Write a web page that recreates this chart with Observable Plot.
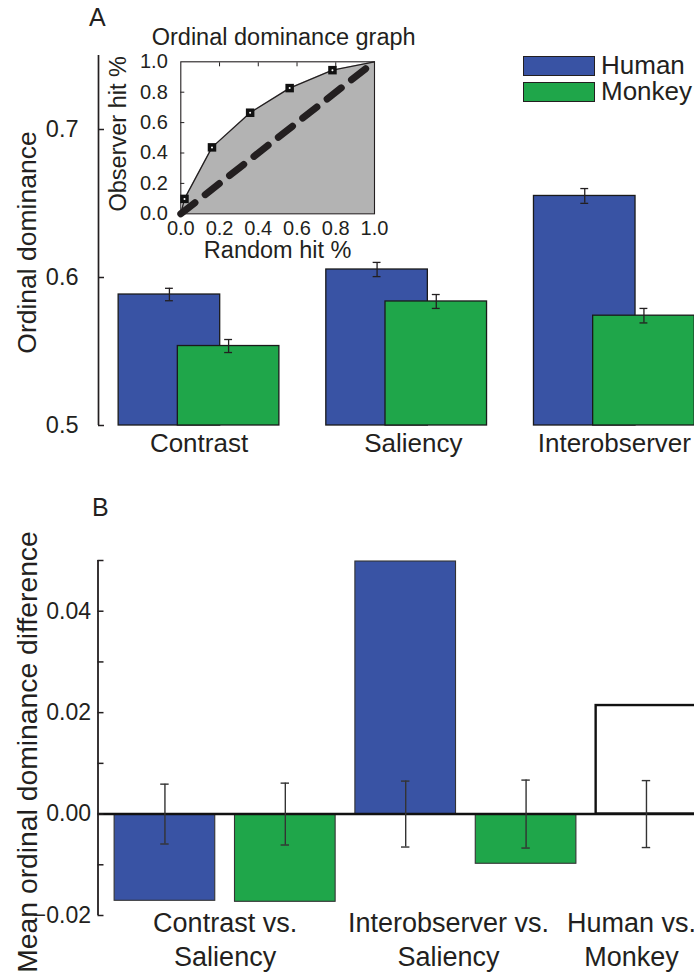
<!DOCTYPE html>
<html><head><meta charset="utf-8">
<script src="https://cdn.jsdelivr.net/npm/d3@7"></script>
<script src="https://cdn.jsdelivr.net/npm/@observablehq/plot@0.6"></script>
<style>
body{margin:0;background:#fff;}
#wrap{position:relative;width:694px;height:972px;overflow:hidden;font-family:"Liberation Sans",Arial,sans-serif;color:#231f20;}
#wrap svg{position:absolute;overflow:visible;}
.lbl{position:absolute;white-space:nowrap;line-height:24px;}
.sw{position:absolute;box-sizing:border-box;border:1.6px solid #231f20;}
</style></head><body><div id="wrap"></div>
<script>
// ---------- Panel A data ----------
const categoriesA = ["Contrast", "Saliency", "Interobserver"];
const humanA      = [0.5885, 0.6054, 0.6551];
const humanErrA   = [0.0042, 0.0048, 0.0050];
const monkeyA     = [0.5537, 0.5838, 0.5742];
const monkeyErrA  = [0.0044, 0.0047, 0.0049];
const yTicksA     = [0.5, 0.6, 0.7];

// ---------- Inset (ordinal dominance graph) ----------
const randomHit   = [0, 0.019, 0.161, 0.358, 0.562, 0.783, 1];
const observerHit = [0, 0.098, 0.437, 0.665, 0.827, 0.945, 1];
const insetTicks  = [0, 0.2, 0.4, 0.6, 0.8, 1.0];
const insetMinor  = [0.2, 0.4, 0.6, 0.8];

// ---------- Panel B data ----------
const labelsB     = ["Contrast vs.\nSaliency", "Interobserver vs.\nSaliency", "Human vs.\nMonkey"];
const groupB      = ["Human", "Monkey", "Human", "Monkey", "Both"];
const valuesB     = [-0.0171, -0.0173, 0.0498, -0.0098, 0.0214];
const nullErrB    = [0.0059, 0.0061, 0.0065, 0.0067, 0.0066];
const yTicksB     = [0.04, 0.02, 0.00, -0.02];
const yMinorB     = [0.05, 0.03, 0.01, -0.01];

// ---------- styling / layout ----------
const W = 694;
const ink = "#231f20", blue = "#3953a4", green = "#1fa64a";
const fillFor = {Human: blue, Monkey: green, Both: "#ffffff"};
const font = "Liberation Sans, Arial, sans-serif";
const wrap = document.getElementById("wrap");

// Panel A
const rowsA = categoriesA.flatMap((c, i) => [
  {cat: c, i, who: "Human",  v: humanA[i],  e: humanErrA[i]},
  {cat: c, i, who: "Monkey", v: monkeyA[i], e: monkeyErrA[i]}
]);
const shiftA = 0.1425, halfA = 0.2445, capA = 0.019;
const xDomA = [-0.484, 2.386];
const labelPosA = [0, 1.032, 2];
const cxA = d => d.i + (d.who === "Human" ? -shiftA : shiftA);

const plotA = Plot.plot({
  width: W, height: 480,
  marginLeft: 98, marginRight: 0, marginTop: 55, marginBottom: 55,
  style: {fontFamily: font, color: ink, background: "transparent", overflow: "visible"},
  x: {domain: xDomA, axis: null},
  y: {domain: [0.5, 0.75], axis: null},
  marks: [
    Plot.rect(rowsA, {x1: d => cxA(d) - halfA, x2: d => cxA(d) + halfA, y1: 0.5, y2: "v",
      fill: d => fillFor[d.who], stroke: "#1a1a1a", strokeWidth: 1.3}),
    Plot.ruleX(rowsA, {x: cxA, y1: d => d.v - d.e, y2: d => d.v + d.e, stroke: ink, strokeWidth: 1.3}),
    Plot.ruleY(rowsA, {y: d => d.v - d.e, x1: d => cxA(d) - capA, x2: d => cxA(d) + capA, stroke: ink, strokeWidth: 1.3}),
    Plot.ruleY(rowsA, {y: d => d.v + d.e, x1: d => cxA(d) - capA, x2: d => cxA(d) + capA, stroke: ink, strokeWidth: 1.3}),
    Plot.ruleX([xDomA[0]], {y1: 0.5, y2: 0.75, stroke: ink, strokeWidth: 1.7}),
    Plot.axisY(yTicksA, {tickSize: -6, tickPadding: 26, fontSize: 23.5, tickFormat: d3.format(".1f"), stroke: ink, strokeWidth: 1.5, label: null}),
    Plot.text(categoriesA, {x: (d, i) => labelPosA[i], frameAnchor: "bottom", lineAnchor: "middle", dy: 18, fontSize: 26, fill: ink}),
    Plot.text(["Ordinal dominance"], {frameAnchor: "left", textAnchor: "middle", lineAnchor: "middle", dx: -71, dy: 2, rotate: -90, fontSize: 26.5, fill: ink})
  ]
});
plotA.style.left = "0px"; plotA.style.top = "0px";
wrap.appendChild(plotA);

// Inset
const curve = randomHit.map((x, k) => ({x, y: observerHit[k]}));
const markers = curve.slice(1, -1);
const inset = Plot.plot({
  width: 420, height: 270,
  marginLeft: 180.3, marginRight: 46, marginTop: 61.3, marginBottom: 56.7,
  style: {fontFamily: font, color: ink, background: "transparent", overflow: "visible"},
  x: {domain: [0, 1], axis: null},
  y: {domain: [0, 1], axis: null},
  marks: [
    Plot.areaY(curve, {x: "x", y: "y", fill: "#b3b3b3"}),
    Plot.frame({stroke: ink, strokeWidth: 1.1}),
    Plot.line([0, 1], {x: d => d, y: d => d, stroke: ink, strokeWidth: 7, strokeDasharray: "18,13"}),
    Plot.line(curve, {x: "x", y: "y", stroke: ink, strokeWidth: 1.3}),
    Plot.dot(markers, {x: "x", y: "y", symbol: "square", r: 4.8, fill: "#111"}),
    Plot.dot(markers, {x: "x", y: "y", r: 1, fill: "#fff"}),
    Plot.axisY(insetTicks, {tickSize: 0, tickPadding: 13, fontSize: 20, tickFormat: d3.format(".1f"), label: null}),
    Plot.axisY(insetMinor, {tickSize: -4, tickFormat: () => "", label: null}),
    Plot.axisX(insetMinor, {anchor: "top", tickSize: -4, tickFormat: () => "", label: null}),
    Plot.axisX(insetTicks, {tickSize: 0, tickPadding: 7, fontSize: 20, tickFormat: d3.format(".1f"), label: null}),
    Plot.text(["Random hit %"], {frameAnchor: "bottom", lineAnchor: "middle", dy: 37, fontSize: 23.5, fill: ink}),
    Plot.text(["Observer hit %"], {frameAnchor: "left", textAnchor: "middle", lineAnchor: "middle", dx: -62.3, dy: -4, rotate: -90, fontSize: 23.5, fill: ink}),
    Plot.text(["Ordinal dominance graph"], {frameAnchor: "top", lineAnchor: "middle", dx: 6, dy: -24.6, fontSize: 23.5, fill: ink})
  ]
});
inset.style.left = "0px"; inset.style.top = "0px";
wrap.appendChild(inset);

// Panel B
const rowsB = valuesB.map((v, i) => ({i, v, e: nullErrB[i], who: groupB[i]}));
const halfB = 0.418, capB = 0.035;
const xDomB = [-0.556, 4.399];
const labelPosB = [0.5, 2.355, 3.875];
const plotB = Plot.plot({
  width: W, height: 492,
  marginLeft: 97.5, marginRight: 0, marginTop: 80, marginBottom: 57,
  style: {fontFamily: font, color: ink, background: "transparent", overflow: "visible"},
  x: {domain: xDomB, axis: null},
  y: {domain: [-0.02, 0.05], axis: null},
  marks: [
    Plot.rect(rowsB.filter(d => d.who !== "Both"), {x1: d => d.i - halfB, x2: d => d.i + halfB, y1: 0, y2: "v",
      fill: d => fillFor[d.who], stroke: "#333", strokeWidth: 1.1}),
    Plot.rect(rowsB.filter(d => d.who === "Both"), {x1: d => d.i - halfB, x2: d => d.i + halfB, y1: 0, y2: "v",
      fill: d => fillFor[d.who], stroke: "#111", strokeWidth: 2.4}),
    Plot.ruleY([0], {stroke: "#111", strokeWidth: 2.6}),
    Plot.ruleX(rowsB, {x: "i", y1: d => -d.e, y2: d => d.e, stroke: "#333", strokeWidth: 1.4}),
    Plot.ruleY(rowsB, {y: d => -d.e, x1: d => d.i - capB, x2: d => d.i + capB, stroke: "#333", strokeWidth: 1.4}),
    Plot.ruleY(rowsB, {y: d => d.e, x1: d => d.i - capB, x2: d => d.i + capB, stroke: "#333", strokeWidth: 1.4}),
    Plot.ruleX([xDomB[0]], {y1: -0.02, y2: 0.05, stroke: ink, strokeWidth: 1.8}),
    Plot.axisY(yTicksB, {tickSize: -6, tickPadding: 13, fontSize: 23, tickFormat: d3.format(".2f"), stroke: ink, strokeWidth: 1.5, label: null}),
    Plot.axisY(yMinorB, {tickSize: -6, tickFormat: () => "", stroke: ink, strokeWidth: 1.5, label: null}),
    Plot.text(labelsB, {x: (d, i) => labelPosB[i], frameAnchor: "bottom", lineAnchor: "middle", dy: 23, lineHeight: 1.26, fontSize: 27, fill: ink}),
    Plot.text(["Mean ordinal dominance difference"], {frameAnchor: "left", textAnchor: "middle", lineAnchor: "middle", dx: -70.5, dy: 14, rotate: -90, fontSize: 28.3, fill: ink})
  ]
});
plotB.style.left = "0px"; plotB.style.top = "480px";
wrap.appendChild(plotB);

// Panel letters and legend
function addLabel(text, left, top, size) {
  const el = document.createElement("div");
  el.className = "lbl"; el.textContent = text;
  el.style.left = left + "px"; el.style.top = top + "px"; el.style.fontSize = size + "px";
  wrap.appendChild(el);
}
function addSwatch(color, left, top, w, h) {
  const el = document.createElement("div");
  el.className = "sw"; el.style.background = color;
  el.style.left = left + "px"; el.style.top = top + "px"; el.style.width = w + "px"; el.style.height = h + "px";
  wrap.appendChild(el);
}
addLabel("A", 89, 5, 25);
addLabel("B", 92, 495, 25);
const legendKeys = ["Human", "Monkey"];
legendKeys.forEach((k, j) => {
  addSwatch(fillFor[k], 522.5, 55.5 + j * 26.6, 72, 20);
  addLabel(k, 601, 52.5 + j * 26.6, 26);
});
</script></body></html>
